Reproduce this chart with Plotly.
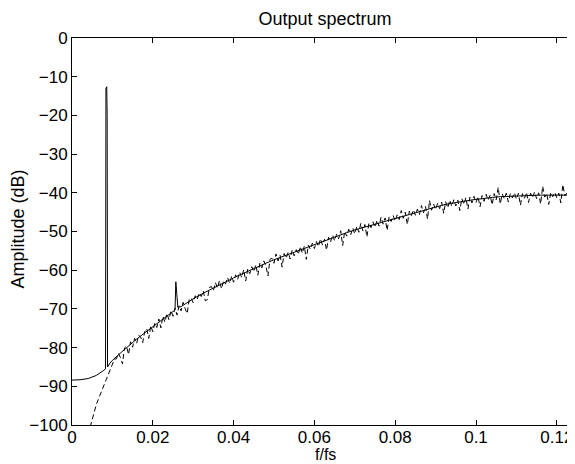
import numpy as np
import plotly.graph_objects as go

# ---- data ----
title_text = "Output spectrum"
x_label = "f/fs"
y_label = "Amplitude (dB)"

x_tick_vals = [0, 0.02, 0.04, 0.06, 0.08, 0.1, 0.12]
x_tick_text = ["0", "0.02", "0.04", "0.06", "0.08", "0.1", "0.12"]
y_tick_vals = [0, -10, -20, -30, -40, -50, -60, -70, -80, -90, -100]

# solid (smooth model) curve, with signal peak and harmonic spike
solid_f = [0.0, 0.002, 0.004, 0.006, 0.0077, 0.0083, 0.0084, 0.0086, 0.0087, 0.0088,
           0.0094, 0.010, 0.012, 0.014, 0.016, 0.018, 0.020, 0.022, 0.024, 0.0255,
           0.0257, 0.0262, 0.027, 0.028, 0.030, 0.032, 0.034, 0.036, 0.038, 0.040,
           0.042, 0.044, 0.046, 0.048, 0.050, 0.052, 0.054, 0.056, 0.058, 0.060,
           0.062, 0.064, 0.066, 0.068, 0.070, 0.072, 0.074, 0.076, 0.078, 0.080,
           0.082, 0.084, 0.086, 0.088, 0.090, 0.092, 0.094, 0.096, 0.098, 0.100,
           0.102, 0.104, 0.106, 0.108, 0.110, 0.112, 0.114, 0.116, 0.118, 0.120,
           0.122, 0.125]
solid_db = [-88.4, -88.3, -88.0, -87.2, -86.0, -85.5, -13.0, -12.6, -20.0, -85.0,
            -84.0, -83.3, -81.4, -79.5, -77.8, -76.2, -74.6, -73.0, -71.5, -70.3,
            -63.0, -69.6, -69.4, -68.7, -67.4, -66.2, -65.1, -64.0, -63.0, -62.0,
            -61.0, -60.0, -59.1, -58.2, -57.3, -56.5, -55.8, -55.1, -54.3, -53.5,
            -52.7, -51.9, -51.1, -50.3, -49.6, -49.0, -48.3, -47.7, -47.1, -46.5,
            -45.9, -45.3, -44.7, -44.1, -43.5, -43.1, -42.7, -42.3, -42.0, -41.7,
            -41.4, -41.2, -41.0, -40.9, -40.8, -40.7, -40.6, -40.6, -40.6, -40.6,
            -40.6, -40.6]

# dashed (simulated, noisy) spectrum: bins from 0.0045 in steps of 0.0005
sim_f_start = 0.0045
sim_f_step = 0.0005
sim_db = [
    -100.5, -98.5, -96.6, -94.8, -93.4, -92.2, -91.0, -89.6, -88.2, -86.9,
    -85.6, -84.4, -83.0, -82.9, -81.5, -82.6, -84.2, -80.1, -79.6, -81.8,
    -78.5, -79.9, -77.6, -78.9, -76.8, -77.3, -78.7, -75.9, -75.1, -77.6,
    -74.4, -75.9, -73.7, -74.8, -72.6, -74.9, -71.9, -73.4, -71.2, -72.8,
    -70.5, -71.9, -69.8, -71.6, -69.2, -70.5, -68.3, -69.9, -71.2, -67.6,
    -67.2, -68.4, -66.6, -67.5, -65.9, -66.8, -65.4, -67.9, -67.6, -64.5,
    -64.2, -65.3, -63.2, -64.6, -62.7, -64.8, -62.9, -63.6, -61.9, -63.4,
    -61.6, -63.1, -61.2, -62.4, -60.5, -61.9, -59.9, -62.8, -59.7, -60.9,
    -59.1, -60.4, -58.6, -61.3, -58.2, -59.4, -57.6, -58.9, -61.5, -57.2,
    -56.9, -58.2, -55.8, -57.6, -56.1, -59.2, -55.7, -56.9, -55.4, -57.1,
    -54.8, -56.3, -54.7, -55.9, -53.9, -55.6, -53.8, -57.2, -53.5, -54.6,
    -53.0, -54.4, -52.6, -53.9, -51.9, -53.5, -52.0, -54.8, -51.5, -52.7,
    -50.9, -52.4, -50.7, -51.9, -49.8, -53.6, -50.0, -51.2, -49.4, -50.8,
    -49.1, -50.6, -48.7, -50.2, -47.9, -49.8, -48.2, -51.4, -47.8, -49.0,
    -47.5, -48.9, -47.1, -48.6, -46.3, -48.1, -46.5, -49.7, -46.2, -47.4,
    -45.9, -47.3, -45.7, -46.9, -44.6, -46.6, -45.0, -48.2, -44.7, -45.9,
    -44.4, -45.8, -44.2, -45.6, -43.3, -45.2, -43.5, -46.8, -42.0, -44.5,
    -42.9, -44.3, -42.7, -44.1, -42.4, -45.3, -42.3, -43.9, -41.9, -43.5,
    -41.8, -43.4, -41.9, -44.6, -41.5, -43.0, -41.3, -44.2, -41.1, -42.6,
    -40.9, -42.5, -41.0, -43.6, -40.7, -42.2, -40.4, -41.9, -40.6, -43.1,
    -40.2, -41.8, -38.6, -42.9, -40.3, -41.5, -40.1, -42.4, -40.2, -41.3,
    -40.0, -41.6, -40.1, -43.2, -40.2, -41.4, -39.9, -42.5, -40.1, -41.2,
    -39.8, -41.5, -40.0, -42.9, -38.3, -41.1, -40.2, -43.0, -39.9, -41.0,
    -39.9, -41.3, -40.1, -42.6, -37.9, -40.8, -40.0, -41.9, -39.6, -40.9,
    -40.3,
]
sim_f = sim_f_start + sim_f_step * np.arange(len(sim_db))

# ---- figure ----
FONT = "Liberation Sans, Arial, Helvetica, sans-serif"
W, H = 569, 456
ML, MT, MR, MB = 64, 30, 0, 39

fig = go.Figure()
fig.add_trace(go.Scatter(x=sim_f, y=sim_db, mode="lines",
                         line=dict(color="black", width=1, dash="5px,3px"),
                         showlegend=False, hoverinfo="skip"))
fig.add_trace(go.Scatter(x=solid_f, y=solid_db, mode="lines",
                         line=dict(color="black", width=1),
                         showlegend=False, hoverinfo="skip"))

axis_common = dict(showgrid=False, zeroline=False, showline=True, linecolor="black",
                   linewidth=1, mirror="ticks", ticks="inside", ticklen=5,
                   tickcolor="black", tickwidth=1,
                   tickfont=dict(family=FONT, size=17, color="black"))

fig.update_layout(
    width=W, height=H,
    margin=dict(l=ML, r=MR, t=MT, b=MB, autoexpand=False),
    paper_bgcolor="white", plot_bgcolor="white",
    title=dict(text=title_text, xref="container", x=317 / W, xanchor="center",
               yref="container", y=1 - 11 / H, yanchor="middle",
               font=dict(family=FONT, size=18, color="black")),
    xaxis=dict(range=[0, 0.125], tickvals=x_tick_vals, ticktext=x_tick_text,
               ticklabelstandoff=-3, **axis_common),
    yaxis=dict(range=[-100, 0], tickvals=y_tick_vals, **axis_common),
    annotations=[
        dict(text=x_label, xref="paper", yref="paper", x=(317 - ML) / (W - ML - MR),
             y=-(446 - (H - MB)) / (H - MT - MB), xanchor="center", yanchor="middle",
             showarrow=False, font=dict(family=FONT, size=16, color="black")),
        dict(text=y_label, xref="paper", yref="paper", x=-(ML - 10) / (W - ML - MR),
             y=0.5 + 2 / (H - MT - MB), xanchor="center", yanchor="middle", textangle=-90,
             showarrow=False, font=dict(family=FONT, size=18, color="black")),
    ],
)

fig.write_html("out.html")
